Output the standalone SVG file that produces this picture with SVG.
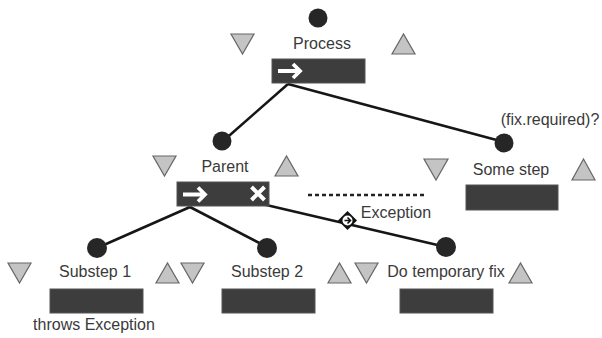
<svg xmlns="http://www.w3.org/2000/svg" width="602" height="338" viewBox="0 0 602 338">
<defs>
<style>
.t{font-family:"Liberation Sans",Arial,sans-serif;font-size:16px;fill:#3a3a3a;text-anchor:middle}
.bar{fill:#3d3d3d;stroke:#555;stroke-width:1}
.tri{fill:#c4c4c4;stroke:#666;stroke-width:1.2}
.dot{fill:#262626}
.ln{stroke:#161616;stroke-width:2.6;fill:none}
.wa{stroke:#fff;stroke-width:3.8;fill:none;stroke-linecap:butt}
</style>
</defs>
<rect width="602" height="338" fill="#fff"/>
<g id="connectors">
<path class="ln" d="M288,84 L222,142"/>
<path class="ln" d="M288,84 L504,142"/>
<path class="ln" d="M190,207 L97,248"/>
<path class="ln" d="M190,207 L267,247"/>
<path class="ln" d="M262,204 L446,247"/>
<path d="M308,195 L425,195" stroke="#222" stroke-width="2.6" stroke-dasharray="4,3" fill="none"/>
<g id="exception-marker">
<path d="M347.5,211 L357,220.5 L347.5,230 L338,220.5 Z" fill="#111"/>
<circle cx="347.5" cy="220.5" r="5" fill="#fff"/>
<path d="M344.5,220.5 L350,220.5 M347.5,217.5 L350.5,220.5 L347.5,223.5" stroke="#111" stroke-width="1.6" fill="none"/>
</g>
<text class="t" x="396" y="218">Exception</text>
</g>
<g id="process">
<circle class="dot" cx="318" cy="18" r="9.5"/>
<text class="t" x="322" y="49">Process</text>
<path class="tri" d="M231,34 L254,34 L242.5,54 Z"/>
<path class="tri" d="M392,54 L415,54 L403.5,34 Z"/>
<rect class="bar" x="272" y="59" width="93" height="24"/>
<path class="wa" d="M278,71 L300,71 M293,64 L300,71 L293,78"/>
</g>
<g id="parent">
<circle class="dot" cx="222" cy="141" r="9.5"/>
<text class="t" x="225" y="172">Parent</text>
<path class="tri" d="M153,156 L176,156 L164.5,176 Z"/>
<path class="tri" d="M275,176 L298,176 L286.5,156 Z"/>
<rect class="bar" x="177" y="182" width="92" height="24"/>
<path class="wa" d="M183,194.5 L205,194.5 M198,187.5 L205,194.5 L198,201.5"/>
<path d="M251.5,187 L264.5,200 M264.5,187 L251.5,200" stroke="#fff" stroke-width="4"/>
</g>
<g id="some-step">
<text class="t" x="550" y="125">(fix.required)?</text>
<circle class="dot" cx="504" cy="143" r="9.5"/>
<text class="t" x="511" y="175">Some step</text>
<path class="tri" d="M424,159 L448,159 L436,180 Z"/>
<path class="tri" d="M572,180 L595,180 L583.5,159 Z"/>
<rect class="bar" x="466" y="185" width="92" height="25"/>
</g>
<g id="substep1">
<circle class="dot" cx="97" cy="248" r="10"/>
<text class="t" x="95" y="277">Substep 1</text>
<path class="tri" d="M8,263 L31,263 L19.5,283 Z"/>
<path class="tri" d="M156,283 L179,283 L167.5,263 Z"/>
<rect class="bar" x="50" y="289" width="93" height="24"/>
<text class="t" x="94" y="330">throws Exception</text>
</g>
<g id="substep2">
<circle class="dot" cx="267" cy="248" r="10"/>
<path class="tri" d="M181,263 L204,263 L192.5,283 Z"/>
<text class="t" x="267" y="277">Substep 2</text>
<path class="tri" d="M328,283 L351,283 L339.5,263 Z"/>
<rect class="bar" x="222" y="289" width="93" height="24"/>
</g>
<g id="temporary-fix">
<circle class="dot" cx="446" cy="247" r="10"/>
<path class="tri" d="M355,263 L378,263 L366.5,283 Z"/>
<text class="t" x="446" y="277">Do temporary fix</text>
<path class="tri" d="M509,283 L532,283 L520.5,263 Z"/>
<rect class="bar" x="400" y="289" width="93" height="24"/>
</g>
</svg>
